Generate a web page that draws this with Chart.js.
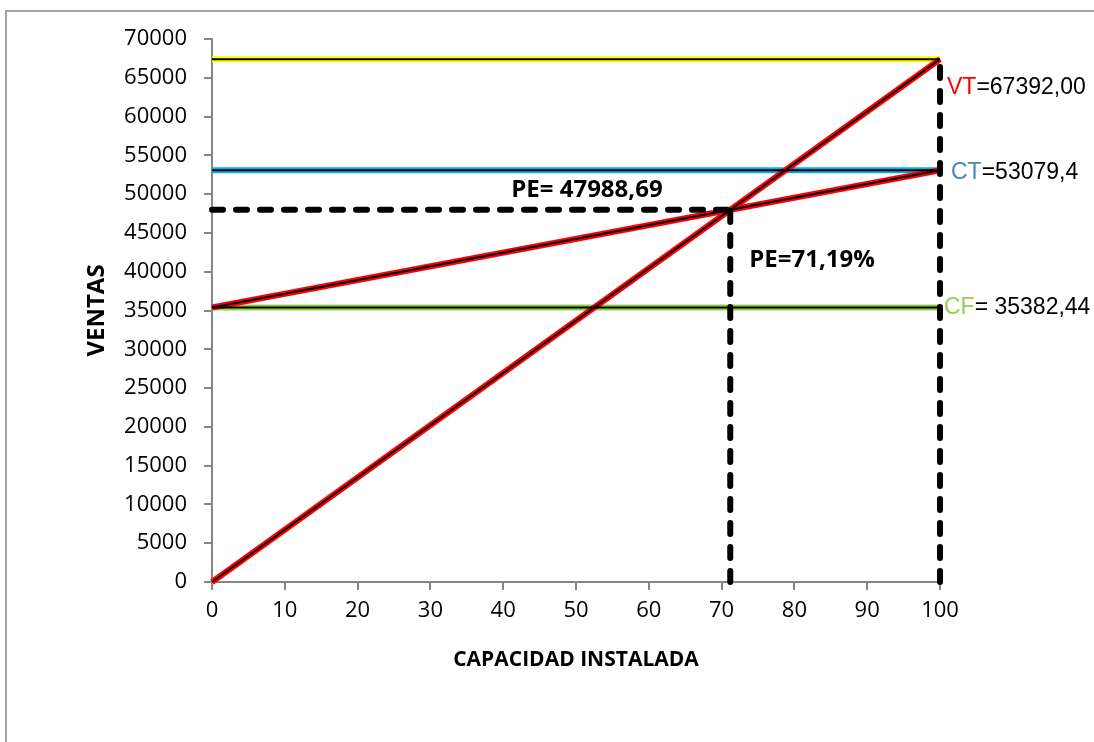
<!DOCTYPE html>
<html>
<head>
<meta charset="utf-8">
<script src="https://cdn.jsdelivr.net/npm/chart.js@4.4.1/dist/chart.umd.min.js"></script>
<style>
  html, body { margin: 0; padding: 0; background: #fff; overflow: hidden; }
  .frame { position: absolute; left: 5px; top: 10px; width: 1200px; height: 1000px; border: 2px solid #a3a3a3; }
  .wrap { position: absolute; left: 0; top: 0; width: 1094px; height: 742px; }
</style>
</head>
<body>
<div class="frame"></div>
<div class="wrap"><canvas id="pe" width="1094" height="742"></canvas></div>
<script>
// punto de equilibrio
const capacidad = [0, 100];
const ventasTotales = [0, 67392.00];
const costoTotal = [35382.44, 53079.4];
const costoFijo = [35382.44, 35382.44];
const lineaVT = [67392.00, 67392.00];
const lineaCT = [53079.4, 53079.4];
const peVentas = 47988.69;
const pePorcentaje = 71.19;

const pts = (ys) => capacidad.map((x, i) => ({ x: x, y: ys[i] }));

const tickFont = { family: "'Open Sans'", size: 22 };

// colored band + thin black line on top
const doble = (ys, color) => [
  { data: pts(ys), borderColor: "#000", borderWidth: 2, order: 0 },
  { data: pts(ys), borderColor: color, borderWidth: 6, order: 1 }
];

const dashed = (data) => ({
  data: data, borderColor: "#000", borderWidth: 6, borderDash: [11, 13],
  borderCapStyle: "round", order: 0
});

const etiquetas = {
  id: "etiquetas",
  afterDatasetsDraw(chart) {
    const ctx = chart.ctx;
    const xs = chart.scales.x, ys = chart.scales.y;
    const x100 = xs.getPixelForValue(100);
    const parts = (x, y, items, font) => {
      ctx.font = font;
      ctx.textBaseline = "middle";
      ctx.textAlign = "left";
      items.forEach(([t, c]) => {
        ctx.fillStyle = c;
        ctx.fillText(t, x, y);
        x += ctx.measureText(t).width;
      });
    };
    ctx.save();
    const f = "23px 'Liberation Sans'";
    parts(x100 + 7, ys.getPixelForValue(lineaVT[1]) + 28, [["VT", "#ff0000"], ["=67392,00", "#000"]], f);
    parts(x100 + 11, ys.getPixelForValue(lineaCT[1]) + 2, [["CT", "#4f81bd"], ["=53079,4", "#000"]], f);
    parts(x100 + 4, ys.getPixelForValue(costoFijo[1]), [["CF", "#92d050"], ["= 35382,44", "#000"]], f);
    const bf = "bold 24px 'Open Sans'";
    ctx.font = bf;
    ctx.fillStyle = "#000";
    ctx.textAlign = "center";
    ctx.fillText("PE= 47988,69", xs.getPixelForValue(51.5), ys.getPixelForValue(peVentas) - 20);
    ctx.textAlign = "left";
    ctx.fillText("PE=71,19%", xs.getPixelForValue(pePorcentaje) + 19, ys.getPixelForValue(peVentas) + 50);
    ctx.restore();
  }
};

new Chart(document.getElementById("pe").getContext("2d"), {
  type: "scatter",
  data: {
    datasets: [
      ...doble(ventasTotales, "#ff0000"),
      ...doble(costoTotal, "#ff0000"),
      ...doble(lineaVT, "#ffff00"),
      ...doble(lineaCT, "#00b0f0"),
      ...doble(costoFijo, "#92d050"),
      dashed([{ x: 0, y: peVentas }, { x: pePorcentaje, y: peVentas }]),
      dashed([{ x: pePorcentaje, y: 0 }, { x: pePorcentaje, y: peVentas }]),
      dashed([{ x: 100, y: 0 }, { x: 100, y: ventasTotales[1] }])
    ].map(d => Object.assign({ showLine: true, pointRadius: 0, clip: false, fill: false }, d))
  },
  options: {
    responsive: false,
    animation: false,
    layout: { padding: { left: 83, top: 39, right: 154, bottom: 69 } },
    plugins: { legend: { display: false }, tooltip: { enabled: false } },
    scales: {
      x: {
        type: "linear", min: 0, max: 100,
        afterFit: (s) => { s.height = 91; },
        ticks: { stepSize: 10, font: tickFont, color: "#000", padding: 8, maxRotation: 0 },
        grid: { drawOnChartArea: false, color: "#868686", lineWidth: 2, tickLength: 8 },
        border: { color: "#868686", width: 2 },
        title: { display: true, text: "CAPACIDAD INSTALADA", color: "#000",
                 font: { family: "'Open Sans'", size: 21, weight: "bold" }, padding: 0 }
      },
      y: {
        min: 0, max: 70000,
        afterFit: (s) => { s.width = 129; },
        ticks: { stepSize: 5000, font: tickFont, color: "#000", padding: 17, callback: (v) => v },
        grid: { drawOnChartArea: false, color: "#868686", lineWidth: 2, tickLength: 8 },
        border: { color: "#868686", width: 2 },
        title: { display: true, text: "VENTAS", color: "#000",
                 font: { family: "'Open Sans'", size: 24, weight: "bold" }, padding: 0 }
      }
    }
  },
  plugins: [etiquetas]
});
</script>
</body>
</html>
